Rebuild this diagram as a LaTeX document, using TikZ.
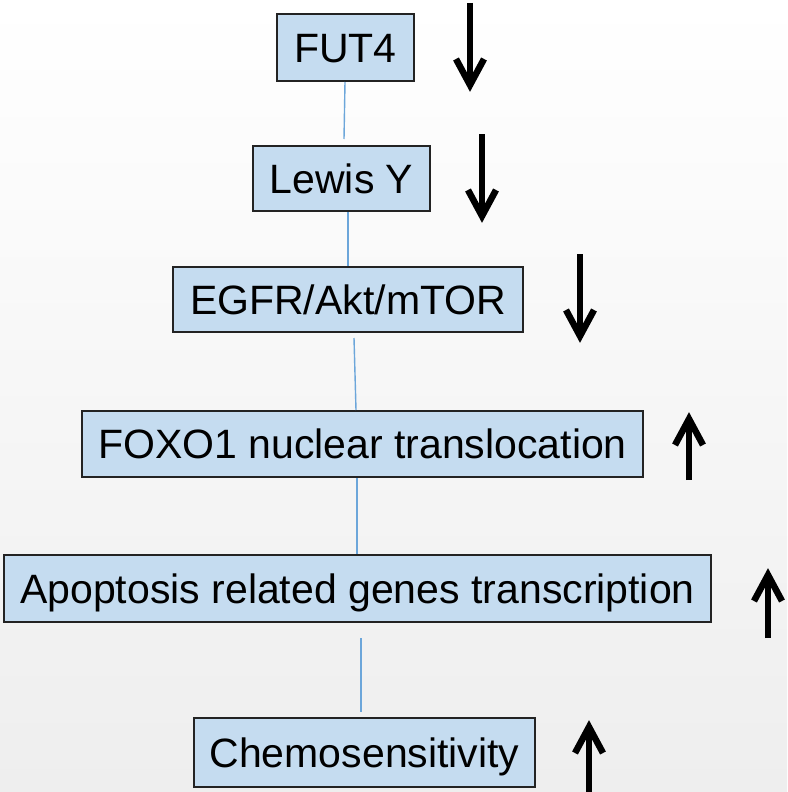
\documentclass[tikz,border=0pt]{standalone}
\usepackage{fontspec}
\setmainfont{Liberation Sans}
\usetikzlibrary{calc}
\definecolor{boxfill}{RGB}{197,220,240}
\definecolor{boxline}{RGB}{35,35,35}
\definecolor{linkblue}{RGB}{108,166,218}
\definecolor{bgbottom}{RGB}{238,238,238}
\tikzset{
  stepbox/.style={draw=boxline, line width=2pt, fill=boxfill, inner sep=0pt,
    font=\fontsize{41}{48}\selectfont, text height=29.4pt, text depth=0pt,
    anchor=center},
  link/.style={draw=linkblue, line width=1.4pt},
  shaft/.style={draw=black, line width=6.5pt},
  head/.style={draw=black, line width=6.5pt, line join=miter, line cap=butt},
}
\newcommand{\myDn}[3]{%
  \draw[shaft] (#1,#2) -- ({#1},{#3-8});
  \draw[head] ({#1-14},{#3-33}) -- ({#1},{#3-7}) -- ({#1+14},{#3-33});}
\newcommand{\myUp}[3]{%
  \draw[shaft] (#1,#2) -- ({#1},{#3+8});
  \draw[head] ({#1-14},{#3+33}) -- ({#1},{#3+7}) -- ({#1+14},{#3+33});}
\begin{document}
\begin{tikzpicture}[x=1pt,y=-1pt]
\shade[top color=white, bottom color=bgbottom] (0,0) rectangle (787,792);
\useasboundingbox (0,0) rectangle (787,792);
\clip (0,0) rectangle (787,792);

\node[stepbox, minimum width=137pt, minimum height=67pt] (fut) at (345.5,47.5) {FUT4};
\node[stepbox, minimum width=177pt, minimum height=65pt] (lew) at (341.5,178.5) {Lewis Y};
\node[stepbox, minimum width=350pt, minimum height=65pt] (egfr) at (348,299.5) {EGFR/Akt/mTOR};
\node[stepbox, minimum width=561pt, minimum height=66pt] (foxo) at (362.5,444) {FOXO1 nuclear translocation};
\node[stepbox, minimum width=707pt, minimum height=67pt] (apo) at (357.5,588.5) {Apoptosis related genes transcription};
\node[stepbox, minimum width=341pt, minimum height=69pt] (chemo) at (364.5,752.5) {Chemosensitivity};

\draw[link] ($(fut.south)+(-0.5,0)$) -- ($(lew.north)+(2.5,-6)$);
\draw[link] ($(lew.south)+(6.5,0)$) -- ($(egfr.north)+(0,0)$);
\draw[link] ($(egfr.south)+(6,5)$) -- ($(foxo.north)+(-6.5,0)$);
\draw[link] ($(foxo.south)+(-5.5,0)$) -- ($(apo.north)+(-0.5,0)$);
\draw[link] ($(apo.south)+(3.5,15)$) -- ($(chemo.north)+(-3.5,-5)$);

\myDn{470}{3}{92}
\myDn{482}{134}{223}
\myDn{580}{254}{343}
\myUp{689}{480}{412}
\myUp{768}{638}{568}
\myUp{589}{800}{720}
\end{tikzpicture}
\end{document}
